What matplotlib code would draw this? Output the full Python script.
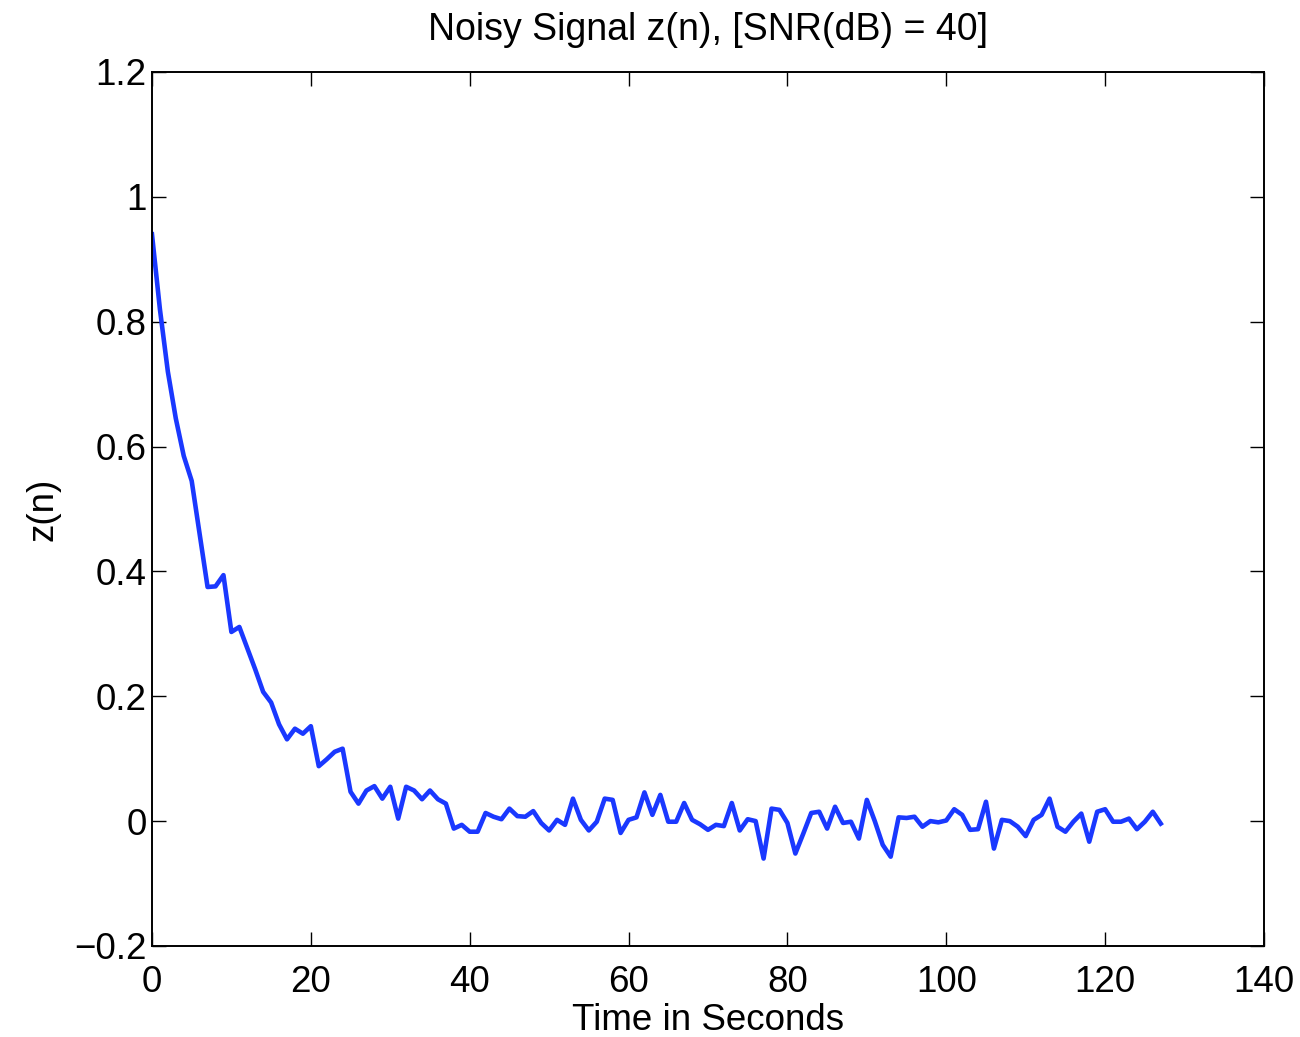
import matplotlib
matplotlib.use("Agg")
import matplotlib.pyplot as plt
import numpy as np

plt.rcParams['font.family'] = ['Liberation Sans', 'DejaVu Sans']

z_values = [
    0.94, 0.82, 0.72, 0.645, 0.585, 0.545, 0.46, 0.375, 0.376, 0.394,
    0.303, 0.311, 0.277, 0.243, 0.207, 0.19, 0.155, 0.131, 0.148, 0.14,
    0.152, 0.088, 0.099, 0.111, 0.116, 0.047, 0.028, 0.049, 0.056, 0.036,
    0.055, 0.004, 0.055, 0.049, 0.035, 0.049, 0.035, 0.028, -0.012, -0.006,
    -0.017, -0.017, 0.013, 0.007, 0.003, 0.02, 0.008, 0.007, 0.016, -0.003,
    -0.015, 0.002, -0.006, 0.036, 0.002, -0.015, -0.001, 0.036, 0.034, -0.019,
    0.002, 0.006, 0.046, 0.01, 0.042, -0.001, -0.001, 0.029, 0.002, -0.005,
    -0.014, -0.006, -0.008, 0.029, -0.015, 0.003, 0.0, -0.06, 0.02, 0.018,
    -0.003, -0.052, -0.02, 0.013, 0.015, -0.012, 0.023, -0.003, -0.001, -0.028,
    0.034, 0.0, -0.038, -0.057, 0.006, 0.005, 0.007, -0.009, 0.0, -0.002,
    0.001, 0.019, 0.01, -0.014, -0.013, 0.031, -0.044, 0.002, 0.0, -0.009,
    -0.024, 0.002, 0.01, 0.036, -0.009, -0.017, -0.001, 0.012, -0.033, 0.015,
    0.019, -0.001, -0.001, 0.004, -0.013, -0.001, 0.015, -0.004,
]
n_values = list(range(len(z_values)))

x_ticks = [0, 20, 40, 60, 80, 100, 120, 140]
y_ticks = [-0.2, 0, 0.2, 0.4, 0.6, 0.8, 1.0, 1.2]
y_tick_labels = ['\u22120.2', '0', '0.2', '0.4', '0.6', '0.8', '1', '1.2']

FS = 26.5

fig = plt.figure(figsize=(13, 10.37), dpi=100)
ax = fig.add_axes([0.1169, 0.0878, 0.8554, 0.8428])

ax.plot(n_values, z_values, color='#1a38ff', linewidth=3.3)

ax.set_xlim(0, 140)
ax.set_ylim(-0.2, 1.2)
ax.set_xticks(x_ticks)
ax.set_xticklabels([str(t) for t in x_ticks])
ax.set_yticks(y_ticks)
ax.set_yticklabels(y_tick_labels)

ax.tick_params(direction='in', length=10, width=1.0, labelsize=FS,
               top=True, right=True, colors='black')
ax.tick_params(axis='x', pad=14)
ax.tick_params(axis='y', pad=4)
for s in ax.spines.values():
    s.set_linewidth(1.4)
    s.set_color('black')

ax.set_title('Noisy Signal z(n), [SNR(dB) = 40]', fontsize=FS + 0.5, pad=23)
ax.set_xlabel('Time in Seconds', fontsize=FS, labelpad=2)
ax.set_ylabel('z(n)', fontsize=FS, labelpad=10)

fig.savefig('out.png', dpi=100, facecolor='white')
